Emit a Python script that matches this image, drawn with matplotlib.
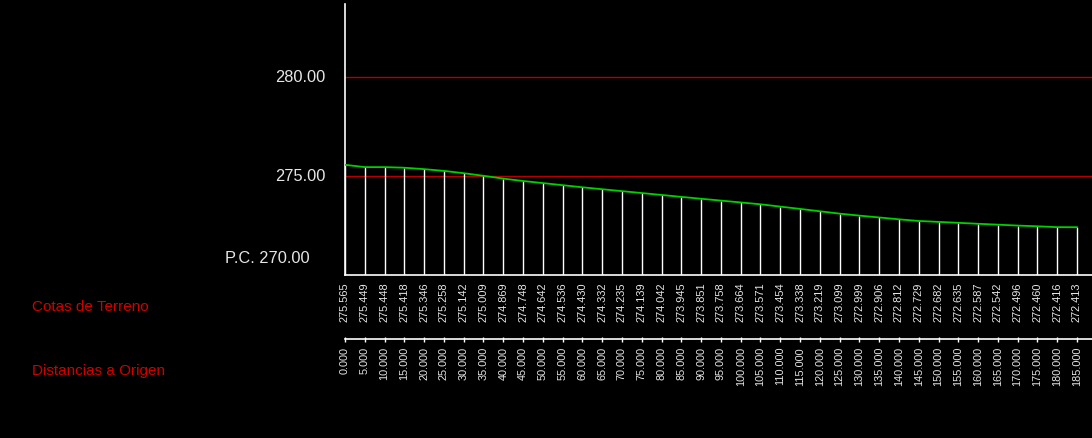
import matplotlib
matplotlib.use("Agg")
import matplotlib.pyplot as plt
from matplotlib.transforms import blended_transform_factory

plt.rcParams['font.family'] = ['Liberation Sans', 'DejaVu Sans']

# stations along the profile (m) and ground elevations (m)
distancias = [0, 5, 10, 15, 20, 25, 30, 35, 40, 45, 50, 55, 60, 65, 70, 75, 80, 85, 90,
              95, 100, 105, 110, 115, 120, 125, 130, 135, 140, 145, 150, 155, 160, 165,
              170, 175, 180, 185]
cotas = [275.565, 275.449, 275.448, 275.418, 275.346, 275.258, 275.142, 275.009,
         274.869, 274.748, 274.642, 274.536, 274.430, 274.332, 274.235, 274.139,
         274.042, 273.945, 273.851, 273.758, 273.664, 273.571, 273.454, 273.338,
         273.219, 273.099, 272.999, 272.906, 272.812, 272.729, 272.682, 272.635,
         272.587, 272.542, 272.496, 272.460, 272.416, 272.413]
plano_comparacion = 270.0
lineas_ref = [275.0, 280.0]

W, H = 1092, 439
fig = plt.figure(figsize=(W / 100, H / 100), dpi=100, facecolor='black')

# profile area in pixel terms
x0, x1 = 345, 1092
y_top, y_base = 5, 276
ax = fig.add_axes([x0 / W, 1 - y_base / H, (x1 - x0) / W, (y_base - y_top) / H])
ax.set_facecolor('black')

px_per_m = (1077 - 345) / 185.0
px_per_unit = 19.8
ax.set_xlim(0, (x1 - x0) / px_per_m)
ax.set_ylim(plano_comparacion, plano_comparacion + (y_base - y_top) / px_per_unit)

for s in ['top', 'right']:
    ax.spines[s].set_visible(False)
for s in ['left', 'bottom']:
    ax.spines[s].set_color('white')
    ax.spines[s].set_linewidth(1.2)
ax.set_xticks([])
ax.set_yticks([])

for yr in lineas_ref:
    ax.axhline(yr, color='#b40000', lw=1.0, zorder=1)

ax.vlines(distancias, plano_comparacion, cotas, color='white', lw=1.0, zorder=2)
ax.plot(distancias, cotas, color='#00d000', lw=1.3, zorder=3)

def fy(ypx):
    return 1 - ypx / H

# elevation scale labels
for yr in lineas_ref:
    ypx = y_base - (yr - plano_comparacion) * px_per_unit
    fig.text(325 / W, fy(ypx), f"{yr:.2f}", color='#e6e6e6', fontsize=11.8,
             ha='right', va='center')
fig.text(310 / W, fy(259), f"P.C. {plano_comparacion:.2f}", color='#e6e6e6',
         fontsize=11.8, ha='right', va='center')

# guitar rows
fig.text(32 / W, fy(307), "Cotas de Terreno", color='#d00000', fontsize=11,
         ha='left', va='center')
fig.text(32 / W, fy(371), "Distancias a Origen", color='#d00000', fontsize=11,
         ha='left', va='center')

blend = blended_transform_factory(ax.transData, fig.transFigure)
for d, c in zip(distancias, cotas):
    ax.text(d, fy(302.5), f"{c:.3f}", transform=blend, rotation=90, color='#e6e6e6',
            fontsize=7.9, ha='center', va='center', clip_on=False)
    ax.text(d, fy(347), f"{d:.3f}", transform=blend, rotation=90, color='#e6e6e6',
            fontsize=7.8, ha='center', va='top', clip_on=False)

ax.plot([0, ax.get_xlim()[1]], [fy(340), fy(340)], transform=blend, color='white',
        lw=1.2, clip_on=False)
ax.vlines(distancias, fy(342.5), fy(337.5), transform=blend, color='white', lw=1.0,
          clip_on=False)

fig.savefig("out.png", dpi=100, facecolor='black')
